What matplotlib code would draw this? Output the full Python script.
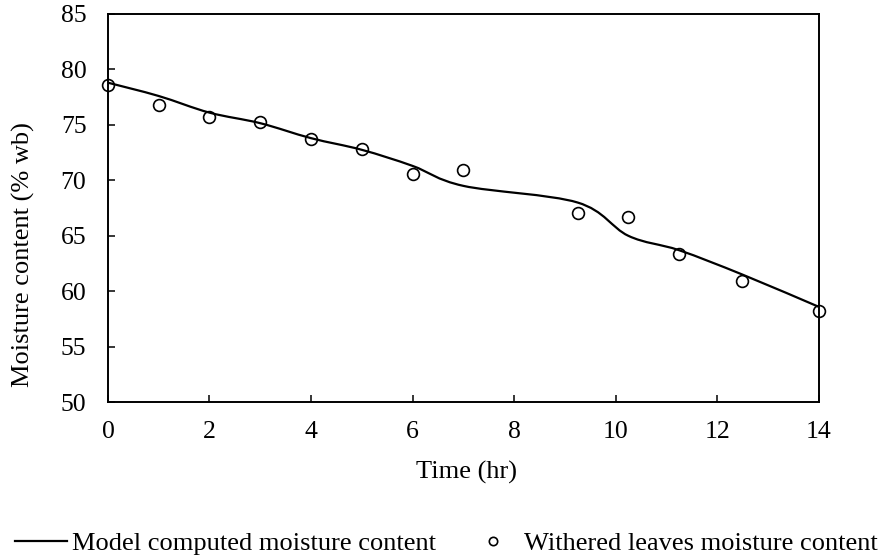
import matplotlib
matplotlib.use("Agg")
import matplotlib.pyplot as plt
import numpy as np
from matplotlib.path import Path
from matplotlib.patches import PathPatch
from matplotlib.lines import Line2D

plt.rcParams["font.family"] = ["Liberation Serif", "DejaVu Serif"]

# measured (withered leaves) moisture content
time_hr = [0, 1, 2, 3, 4, 5, 6, 7, 9.25, 10.25, 11.25, 12.5, 14]
measured_mc = [78.6, 76.8, 75.75, 75.25, 73.7, 72.85, 70.6, 70.9, 67.05, 66.65, 63.4, 60.9, 58.2]

# model computed moisture content at the same times
model_mc = [78.8, 77.6, 76.1, 75.15, 73.8, 72.75, 71.3, 69.5, 68.0, 65.0, 63.7, 61.5, 58.6]

x_ticks = [0, 2, 4, 6, 8, 10, 12, 14]
y_ticks = [50, 55, 60, 65, 70, 75, 80, 85]

FS = 19
TICK_FS = 18.5


def smooth_path(xs, ys):
    """Excel-style smoothed line: Catmull-Rom segments as cubic Beziers."""
    pts = np.column_stack([xs, ys]).astype(float)
    n = len(pts)
    verts = [pts[0]]
    codes = [Path.MOVETO]
    for i in range(n - 1):
        p0 = pts[i - 1] if i > 0 else pts[i]
        p1 = pts[i]
        p2 = pts[i + 1]
        p3 = pts[i + 2] if i + 2 < n else pts[i + 1]
        c1 = p1 + (p2 - p0) / 6.0
        c2 = p2 - (p3 - p1) / 6.0
        verts += [c1, c2, p2]
        codes += [Path.CURVE4] * 3
    return Path(verts, codes)


fig = plt.figure(figsize=(8.85, 5.57), dpi=100)
ax = fig.add_axes([0.122, 0.278, 0.803, 0.697])

ax.add_patch(PathPatch(smooth_path(time_hr, model_mc), facecolor="none",
                       edgecolor="black", linewidth=1.6, zorder=3))
ax.plot(time_hr, measured_mc, linestyle="none", marker="o", markersize=8.5,
        markerfacecolor="none", markeredgecolor="black", markeredgewidth=1.2,
        zorder=4, clip_on=False)

ax.set_xlim(0, 14)
ax.set_ylim(50, 85)
ax.set_xticks(x_ticks)
ax.set_yticks(y_ticks)
ax.tick_params(direction="in", length=5, width=1.1, labelsize=TICK_FS)
ax.tick_params(axis="x", pad=13.5)
ax.tick_params(axis="y", pad=15.5)
for s in ax.spines.values():
    s.set_linewidth(1.4)

ax.set_xlabel("Time (hr)", fontsize=FS, va="center")
ax.set_ylabel("Moisture content (% wb)", fontsize=FS, va="center")
ax.xaxis.set_label_coords(0.505, -0.182)
ax.yaxis.set_label_coords(-0.1195, 0.379)

handles = [
    Line2D([], [], color="black", linewidth=1.6),
    Line2D([], [], linestyle="none", marker="o", markersize=6,
           markerfacecolor="none", markeredgecolor="black", markeredgewidth=1.2),
]
fig.legend(handles, ["Model computed moisture content", "Withered leaves moisture content"],
           loc="center", bbox_to_anchor=(0.5045, 0.025), ncol=2, frameon=False,
           fontsize=FS, handlelength=1.97, handletextpad=0.17, columnspacing=1.2,
           borderpad=0, borderaxespad=0)

fig.savefig("out.png", dpi=100)
